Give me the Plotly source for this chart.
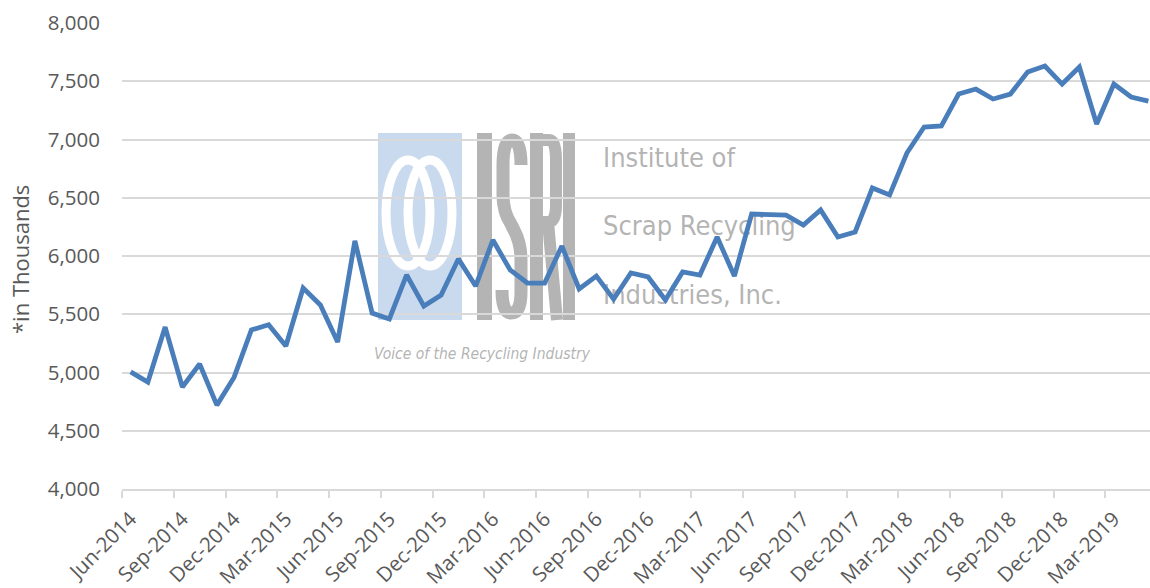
import plotly.graph_objects as go

months = ["Jun-2014","Jul-2014","Aug-2014","Sep-2014","Oct-2014","Nov-2014","Dec-2014",
          "Jan-2015","Feb-2015","Mar-2015","Apr-2015","May-2015","Jun-2015","Jul-2015","Aug-2015","Sep-2015","Oct-2015","Nov-2015","Dec-2015",
          "Jan-2016","Feb-2016","Mar-2016","Apr-2016","May-2016","Jun-2016","Jul-2016","Aug-2016","Sep-2016","Oct-2016","Nov-2016","Dec-2016",
          "Jan-2017","Feb-2017","Mar-2017","Apr-2017","May-2017","Jun-2017","Jul-2017","Aug-2017","Sep-2017","Oct-2017","Nov-2017","Dec-2017",
          "Jan-2018","Feb-2018","Mar-2018","Apr-2018","May-2018","Jun-2018","Jul-2018","Aug-2018","Sep-2018","Oct-2018","Nov-2018","Dec-2018",
          "Jan-2019","Feb-2019","Mar-2019","Apr-2019","May-2019"]

values = [5005, 4918, 5390, 4875, 5073, 4720, 4960,
          5365, 5410, 5227, 5725, 5580, 5262, 6130, 5510, 5460, 5837, 5570, 5665,
          5975, 5742, 6137, 5880, 5768, 5768, 6085, 5717, 5828, 5630, 5854, 5820,
          5622, 5863, 5837, 6163, 5828, 6360, 6360, 6350, 6265, 6395, 6163, 6206,
          6584, 6524, 6884, 7107, 7116, 7390, 7433, 7348, 7390, 7580, 7631, 7476,
          7622, 7133, 7476, 7365, 7330]

y_ticks = [4000, 4500, 5000, 5500, 6000, 6500, 7000, 7500, 8000]
label_step = 3

W, H = 1150, 588
L, R, T, B = 122, 0, 23, 99
PW, PH = W - L - R, H - T - B
n = len(months)
x_idx = list(range(n))
month_px = 17.25                      # the chart is cropped at the right edge
x_lo = -0.5
x_hi = x_lo + PW / month_px

def px(x):
    return (x - L) / PW

def py(y):
    return (H - B - y) / PH

# pixel -> data coords (for watermark text, drawn beneath the line)
def dx(x):
    return x_lo + (x - L) / PW * (x_hi - x_lo)

def dy(y):
    return y_ticks[-1] - (y - T) / PH * (y_ticks[-1] - y_ticks[0])

fig = go.Figure()

wm_gray = "rgba(160,160,160,0.8)"
narrow = "Liberation Sans Narrow, DejaVu Sans Condensed, Arial Narrow, Liberation Sans, sans-serif"

# watermark text (below line)
fig.add_trace(go.Scatter(
    x=[dx(603), dx(603), dx(603)], y=[dy(160), dy(228), dy(297)],
    text=["Institute of", "Scrap Recycling", "Industries, Inc."],
    mode="text", textposition="middle right",
    textfont=dict(family=narrow, size=27, color=wm_gray),
    hoverinfo="skip", showlegend=False, cliponaxis=False))
fig.add_trace(go.Scatter(
    x=[dx(374)], y=[dy(355)], text=["Voice of the Recycling Industry"],
    mode="text", textposition="middle right",
    textfont=dict(family=narrow, size=15.5, color=wm_gray, style="italic"),
    hoverinfo="skip", showlegend=False, cliponaxis=False))

fig.add_trace(go.Scatter(
    x=x_idx, y=values, mode="lines",
    line=dict(color="#4a7ebb", width=4.8),
    showlegend=False, hoverinfo="x+y"))

shapes = []
# blue square of logo
shapes.append(dict(type="rect", xref="paper", yref="paper", layer="below",
                   x0=px(378), x1=px(462), y0=py(320), y1=py(133),
                   fillcolor="#c9daee", line=dict(width=0)))
# white rings
for cx in (408, 430):
    shapes.append(dict(type="circle", xref="paper", yref="paper", layer="below",
                       x0=px(cx - 22), x1=px(cx + 22), y0=py(266), y1=py(160),
                       line=dict(color="white", width=9)))

gray = "#b4b4b4"
# I
shapes.append(dict(type="rect", xref="paper", yref="paper", layer="below",
                   x0=px(477), x1=px(492), y0=py(320), y1=py(133),
                   fillcolor=gray, line=dict(width=0)))
# S
s_path = ("M {a},{b} Q {c},{d} {e},{f} Q {g},{h} {i},{j} L {k},{l} Q {m},{n} {o},{p} "
          "L {q},{r} Q {s},{t} {u},{v} L {w},{x} Q {y},{z} {aa},{bb} Q {cc},{dd} {ee},{ff}")
pts = dict(a=px(521), b=py(165), c=px(521), d=py(140), e=px(512), f=py(140),
           g=px(503), h=py(140), i=px(503), j=py(165), k=px(503), l=py(195),
           m=px(503), n=py(212), o=px(511), p=py(224), q=px(514), r=py(230),
           s=px(521), t=py(243), u=px(521), v=py(260), w=px(521), x=py(292),
           y=px(521), z=py(313), aa=px(511), bb=py(313), cc=px(502), dd=py(313),
           ee=px(502), ff=py(290))
shapes.append(dict(type="path", xref="paper", yref="paper", layer="below",
                   path=s_path.format(**pts), line=dict(color=gray, width=13)))
# R
shapes.append(dict(type="rect", xref="paper", yref="paper", layer="below",
                   x0=px(530), x1=px(543), y0=py(320), y1=py(133),
                   fillcolor=gray, line=dict(width=0)))
r_path = "M {},{} L {},{} Q {},{} {},{} L {},{} Q {},{} {},{} L {},{} M {},{} L {},{}".format(
    px(537), py(140), px(549), py(140), px(556), py(140), px(556), py(160),
    px(556), py(205), px(556), py(222), px(548), py(222), px(537), py(222),
    px(548), py(222), px(557), py(320))
shapes.append(dict(type="path", xref="paper", yref="paper", layer="below",
                   path=r_path, line=dict(color=gray, width=12)))
# I
shapes.append(dict(type="rect", xref="paper", yref="paper", layer="below",
                   x0=px(563), x1=px(575), y0=py(320), y1=py(133),
                   fillcolor=gray, line=dict(width=0)))

tick_font = dict(family="Open Sans, sans-serif", size=20.5, color="#595959")

fig.update_layout(
    width=W, height=H, autosize=False,
    margin=dict(l=L, r=R, t=T, b=B, pad=0, autoexpand=False),
    paper_bgcolor="white", plot_bgcolor="rgba(0,0,0,0)",
    shapes=shapes,
    xaxis=dict(range=[x_lo, x_hi], tickvals=x_idx[::label_step],
               ticktext=months[::label_step], tickangle=-45, ticks="",
               showgrid=False, zeroline=False, showline=True, automargin=False,
               linecolor="#d9d9d9", linewidth=1.5, tickfont=tick_font,
               ticklabelstandoff=8,
               minor=dict(ticks="outside", tick0=-0.5, dtick=label_step,
                          ticklen=7, tickcolor="#d9d9d9", tickwidth=1.5, showgrid=False),
               fixedrange=True),
    yaxis=dict(range=[y_ticks[0], y_ticks[-1]], tickvals=y_ticks,
               tickformat=",", showgrid=True, gridcolor="#d9d9d9", gridwidth=1.5,
               zeroline=False, showline=False, ticks="", tickfont=tick_font,
               ticklabelstandoff=21, automargin=False, fixedrange=True),
    annotations=[dict(text="*in Thousands", xref="paper", yref="paper",
                      x=px(20), y=py(260), textangle=-90, showarrow=False,
                      font=dict(family="Open Sans, sans-serif", size=22, color="#595959"),
                      xanchor="center", yanchor="middle")],
)

fig.write_html("out.html", config={"responsive": False, "displayModeBar": False},
               post_script="document.body.style.margin='0';document.body.style.overflow='hidden';")
